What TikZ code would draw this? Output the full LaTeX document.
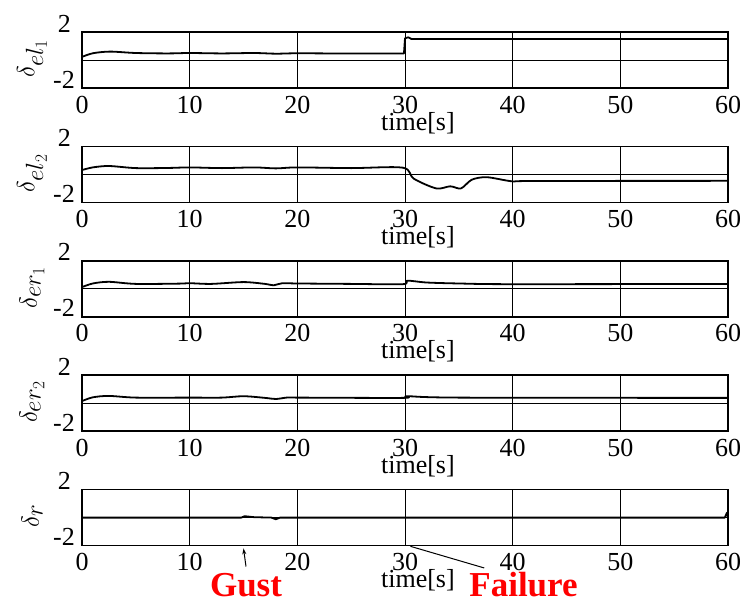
\documentclass[tikz,border=0pt]{standalone}
\usepackage{fontspec}
\setmainfont{Liberation Serif}
\usetikzlibrary{arrows.meta}

\begin{document}
\begin{tikzpicture}[x=1pt,y=-1pt,
  panel/.style={shift={(82pt,-#1 pt)},x=10.767pt,y=14pt},
  frame/.style={line width=1.6pt},
  gridline/.style={line width=0.8pt},
  signal/.style={line width=1.8pt,line join=round},
  ticklbl/.style={font=\fontsize{26}{28}\selectfont,inner sep=0pt,anchor=base},
  ylbl/.style={font=\fontsize{26}{28}\selectfont,inner sep=0pt,anchor=base east},
  namelbl/.style={font=\fontsize{33}{36}\selectfont,rotate=90,inner sep=0pt},
  note/.style={font=\fontsize{35}{38}\selectfont\bfseries,text=red,inner sep=0pt}]

\useasboundingbox (0,0) rectangle (749,605);

% frames, grid and labels of the five panels
\foreach \z/\i/\sym in {60/1/el_1,174.4/2/el_2,288.8/3/er_1,403.2/4/er_2,517.6/5/r}{
  \begin{scope}[panel=\z]
    \draw[frame] (0,-2) rectangle (60,2);
    \foreach \t in {10,20,...,50}
      \draw[gridline] (\t,-2) -- (\t,2);
    \draw[gridline] (0,0) -- (60,0);
    \foreach \t in {0,10,...,60}
      \node[ticklbl] (tick\i-\t) at ([yshift=-25pt]\t,-2) {\t};
    \node[ylbl] (top\i) at ([xshift=-11pt]0,2) {2};
    \node[ylbl] (bot\i) at ([xshift=-7pt]0,-2) {-2};
    \node[ticklbl] (time\i) at ([yshift=-42pt]31.2,-2) {time[s]};
    \node[namelbl] (sym\i) at ([xshift=-50pt]0,0.1) {$\delta_{\sym}$};
  \end{scope}
}

% signals
\begin{scope}[panel=60]
  \draw[signal] plot[smooth,tension=0.5] coordinates {(0,0.22) (1,0.48) (2.6,0.6) (5,0.5) (8,0.47) (10,0.5) (13,0.47) (16,0.5) (18,0.45) (20,0.48) (25,0.46) (29.9,0.46)}
    -- (30,1.55) -- (30.3,1.62) -- (30.6,1.5) -- (60,1.5);
\end{scope}
\begin{scope}[panel=174.4]
  \draw[signal] plot[smooth,tension=0.5] coordinates {(0,0.31) (1,0.5) (2.5,0.6) (5,0.45) (8,0.46) (10,0.5) (13,0.45) (16,0.5) (18,0.43) (20,0.5) (25,0.45) (29.8,0.48) (30.8,-0.3) (32.9,-1.0) (34.2,-0.85) (35.2,-1.0) (36.2,-0.38) (37.6,-0.2) (40,-0.5) (42,-0.47) (60,-0.46)};
\end{scope}
\begin{scope}[panel=288.8]
  \draw[signal] plot[smooth,tension=0.5] coordinates {(0,0.12) (1,0.38) (2.5,0.5) (5,0.35) (9,0.37) (10,0.4) (12,0.35) (15,0.48) (17,0.35) (17.8,0.25) (18.6,0.4) (20,0.38) (25,0.35) (29.8,0.33) (30.2,0.58) (32,0.45) (35,0.38) (40,0.33) (60,0.35)};
\end{scope}
\begin{scope}[panel=403.2]
  \draw[signal] plot[smooth,tension=0.5] coordinates {(0,0.15) (1,0.42) (2.5,0.52) (5,0.4) (10,0.4) (13,0.4) (15,0.5) (17,0.38) (18,0.3) (19,0.4) (20,0.4) (29.8,0.38) (30.2,0.5) (35,0.4) (60,0.38)};
\end{scope}
\begin{scope}[panel=517.6]
  \draw[signal] (0,0) -- (14.8,0) -- (15.1,0.1) -- (16,0.03) -- (17.6,0) -- (18,-0.12) -- (18.4,0) -- (59.7,0) -- (59.9,0.35) -- (60,0);
  \coordinate (gusttip) at (15,-2.2);
  \coordinate (failpt) at (30.5,-2.05);
\end{scope}

% events
\node[note] (gust) at (246,585.5) {Gust};
\node[note] (fail) at (523.5,584.5) {Failure};
\draw[-{Stealth[length=6pt,width=4pt]},line width=1pt] ([yshift=7pt]gust.north) -- (gusttip);
\draw[line width=1pt] ([xshift=15pt,yshift=4pt]fail.north west) -- (failpt);

\end{tikzpicture}
\end{document}
